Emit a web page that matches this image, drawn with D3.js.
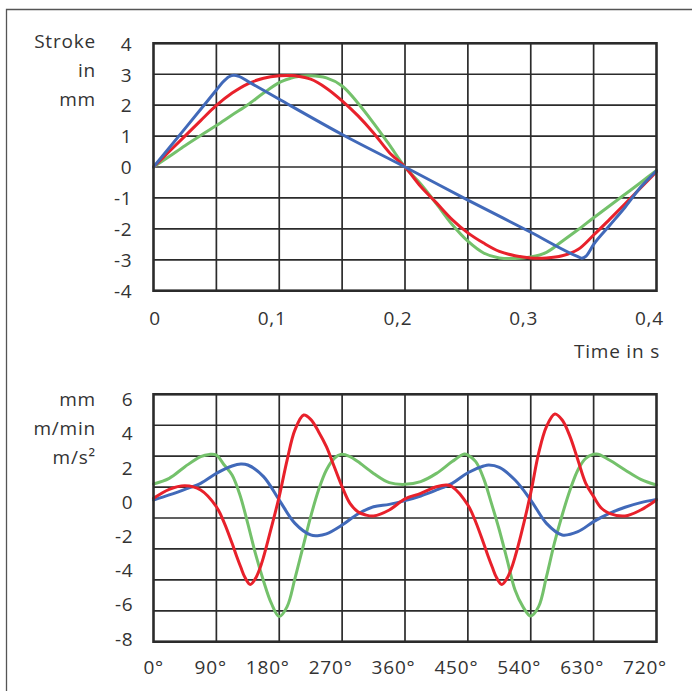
<!DOCTYPE html>
<html>
<head>
<meta charset="utf-8">
<script src="https://cdn.jsdelivr.net/npm/d3@7"></script>
<style>
  html, body { margin: 0; padding: 0; background: #fff; }
  svg { display: block; }
  text { font-family: "Open Sans", sans-serif; font-size: 19px; fill: #333; letter-spacing: 0.8px; }
</style>
</head>
<body>
<svg id="chart" width="692" height="691"></svg>
<script>
// ---------- data ----------
// Top chart: stroke in mm over time in s
const topTime   = [0, 0.0125, 0.025, 0.0375, 0.05, 0.0625, 0.075, 0.0875, 0.1, 0.11, 0.1125, 0.125, 0.1375, 0.15, 0.1625, 0.175, 0.1875, 0.2,
                   0.2125, 0.225, 0.2375, 0.25, 0.2625, 0.275, 0.2875, 0.3, 0.3125, 0.325, 0.3375, 0.35, 0.3625, 0.375, 0.3875, 0.4];
const strokeRed = [0, 0.5, 1.0, 1.5, 1.99, 2.39, 2.69, 2.87, 2.95, 2.96, 2.95, 2.84, 2.55, 2.14, 1.66, 1.1, 0.47, 0,
                   -0.63, -1.16, -1.70, -2.13, -2.46, -2.73, -2.87, -2.94, -2.94, -2.87, -2.67, -2.2, -1.7, -1.19, -0.67, -0.15];
const strokeGreen = [0, 0.34, 0.69, 1.02, 1.34, 1.68, 2.01, 2.39, 2.73, 2.88, 2.91, 2.95, 2.88, 2.62, 2.07, 1.42, 0.72, 0,
                   -0.55, -1.19, -1.86, -2.4, -2.78, -2.94, -2.96, -2.91, -2.76, -2.4, -2.03, -1.64, -1.26, -0.88, -0.5, -0.11];
const blueTime  = [0, 0.025, 0.05, 0.055, 0.06, 0.064, 0.068, 0.075, 0.1, 0.15, 0.2, 0.25, 0.3, 0.3375, 0.3405, 0.344, 0.35, 0.3625, 0.375, 0.3875, 0.4];
const strokeBlue = [0, 1.24, 2.49, 2.74, 2.92, 2.97, 2.93, 2.77, 2.19, 1.05, 0, -1.07, -2.11, -2.9, -2.95, -2.88, -2.5, -1.9, -1.3, -0.65, -0.12];

const topXTicks = [0, 0.1, 0.2, 0.3, 0.4];
const topXLabels = ["0", "0,1", "0,2", "0,3", "0,4"];
const topYTicks = [4, 3, 2, 1, 0, -1, -2, -3, -4];
const topYTitle = ["Stroke", "in", "mm"];
const topXTitle = "Time in s";

// Bottom chart: stroke, velocity, acceleration over crank angle
const angleBlue = [0, 22.5, 45, 67.5, 90, 112.5, 125, 135, 157.5, 180, 202.5, 225, 235, 247.5, 270, 292.5, 315, 337.5,
                   360, 382.5, 405, 427.5, 450, 472.5, 480, 495, 517.5, 540, 562.5, 585, 607.5, 630, 652.5, 675, 697.5, 720];
const valBlue   = [0.08, 0.38, 0.71, 1.06, 1.64, 2.07, 2.19, 2.13, 1.45, 0.08, -1.28, -1.96, -2.0, -1.90, -1.38, -0.73, -0.31, -0.17,
                   0.05, 0.32, 0.67, 1.06, 1.68, 2.07, 2.13, 1.99, 1.25, 0.08, -1.28, -1.96, -1.77, -1.18, -0.70, -0.34, -0.07, 0.12];
const angleRed  = [0, 22.5, 45, 67.5, 90, 101.25, 112.5, 119, 125, 131, 138.5, 146, 152, 157.5, 165.7, 180, 191.25, 202.5, 215, 225, 236.25, 247.5, 258.75, 270, 281.25, 292.5, 303.75, 315, 337.5,
                   360, 382.5, 405, 420, 427.5, 450, 461.25, 472.5, 479, 485, 491, 498.5, 506, 512, 517.5, 525.7, 540, 551.25, 562.5, 574.5, 585, 596.25, 607.5, 618.75, 630, 641.25, 652.5, 675, 697.5, 720];
const valRed    = [0.18, 0.71, 0.92, 0.67, -0.31, -1.25, -2.45, -3.2, -3.85, -4.45, -4.85, -4.5, -3.95, -3.25, -2.0, 0.3, 2.42, 4.18, 5.05, 4.80, 4.08, 3.20, 2.03, 0.86, -0.11, -0.60, -0.79, -0.85, -0.50,
                   0.15, 0.47, 0.86, 0.96, 0.86, -0.21, -1.2, -2.45, -3.2, -3.85, -4.45, -4.85, -4.5, -3.95, -3.25, -2.0, 0.5, 2.81, 4.37, 5.11, 4.76, 3.79, 2.42, 1.06, 0.28, -0.40, -0.70, -0.85, -0.50, 0.08];
const angleGreen = [0, 22.5, 45, 67.5, 80, 90, 101.25, 112.5, 123.75, 135, 146.25, 157.5, 168.75, 180, 191.25, 202.5, 213.75, 225, 236.25, 247.5, 258.75, 268, 281.25, 292.5, 315, 337.5,
                    360, 382.5, 405, 427.5, 445, 450, 461.25, 472.5, 483.75, 495, 506.25, 517.5, 528.75, 540, 551.25, 562.5, 573.75, 585, 596.25, 607.5, 618.75, 634, 652.5, 675, 697.5, 720];
const valGreen   = [1.02, 1.35, 2.03, 2.62, 2.75, 2.71, 2.13, 1.55, 0.38, -1.3, -3.1, -4.65, -5.96, -6.73, -6.15, -4.50, -2.70, -0.89, 0.67, 1.84, 2.52, 2.75, 2.62, 2.33, 1.64, 1.10,
                    1.0, 1.16, 1.64, 2.33, 2.77, 2.71, 2.33, 1.35, -0.11, -1.67, -3.42, -5.18, -6.15, -6.70, -6.15, -4.40, -2.45, -0.79, 0.67, 1.84, 2.52, 2.77, 2.42, 1.84, 1.29, 0.96];

const botXTicks = [0, 90, 180, 270, 360, 450, 540, 630, 720];
const botYTicks = [6, 4, 2, 0, -2, -4, -6, -8];
const botYTitle = ["mm", "m/min", "m/s\u00B2"];

const seriesColors = { blue: "#4169b9", red: "#e8212b", green: "#74c16b" };

// ---------- drawing ----------
const svg = d3.select("#chart");

// outer frame (left and top edges)
svg.append("path")
  .attr("d", "M6.5,691 V9.5 H692")
  .attr("fill", "none").attr("stroke", "#555").attr("stroke-width", 1.3);

const plotL = 153.5, plotR = 656.5;

function drawGrid(g, top, bottom, cols, rows) {
  const gx = d3.scaleLinear().domain([0, cols]).range([plotL, plotR]);
  const gy = d3.scaleLinear().domain([0, rows]).range([bottom, top]);
  g.append("g").selectAll("line.v").data(d3.range(1, cols)).join("line")
    .attr("x1", d => gx(d)).attr("x2", d => gx(d)).attr("y1", top).attr("y2", bottom)
    .attr("stroke", "#2b2b2b").attr("stroke-width", 1.7);
  g.append("g").selectAll("line.h").data(d3.range(1, rows)).join("line")
    .attr("y1", d => gy(d)).attr("y2", d => gy(d)).attr("x1", plotL).attr("x2", plotR)
    .attr("stroke", "#2b2b2b").attr("stroke-width", 1.7);
}
function drawBorder(g, top, bottom) {
  g.append("rect").attr("x", plotL).attr("y", top).attr("width", plotR - plotL).attr("height", bottom - top)
    .attr("fill", "none").attr("stroke", "#2b2b2b").attr("stroke-width", 2.6);
}
function addLine(g, xs, ys, xScale, yScale, color, curve) {
  const pts = xs.map((x, i) => [xScale(x), yScale(ys[i])]);
  g.append("path").attr("d", d3.line().curve(curve)(pts))
    .attr("fill", "none").attr("stroke", color).attr("stroke-width", 3)
    .attr("stroke-linejoin", "round").attr("stroke-linecap", "round");
}
const plainFormat = d => String(d);
const smooth = d3.curveCatmullRom.alpha(0.5);

// ----- top chart -----
const topTop = 43.3, topBot = 290.7;
const xTop = d3.scaleLinear().domain([0, 0.4]).range([plotL, plotR]);
const yTop = d3.scaleLinear().domain([-4, 4]).range([topBot, topTop]);
const gTop = svg.append("g");
drawGrid(gTop, topTop, topBot, 8, 8);
addLine(gTop, topTime, strokeGreen, xTop, yTop, seriesColors.green, smooth);
addLine(gTop, topTime, strokeRed, xTop, yTop, seriesColors.red, smooth);
addLine(gTop, blueTime, strokeBlue, xTop, yTop, seriesColors.blue, d3.curveMonotoneX);
drawBorder(gTop, topTop, topBot);

const axTopY = svg.append("g").attr("transform", `translate(${plotL},0)`)
  .call(d3.axisLeft(yTop).tickValues(topYTicks).tickSize(0).tickPadding(21).tickFormat(plainFormat));
axTopY.select(".domain").remove();
axTopY.selectAll("text").attr("dy", "0.36em").style("font-size", "19px").attr("fill", "#333");

const axTopX = svg.append("g").attr("transform", `translate(0,${topBot})`)
  .call(d3.axisBottom(xTop).tickValues(topXTicks).tickSize(0).tickPadding(0)
        .tickFormat((d, i) => topXLabels[i]));
axTopX.select(".domain").remove();
axTopX.selectAll("text").attr("text-anchor", "end").attr("dx", 7).attr("y", 34).attr("dy", 0)
  .style("font-size", "19px").attr("fill", "#333");

svg.append("text").attr("text-anchor", "end")
  .selectAll("tspan").data(topYTitle).join("tspan")
  .attr("x", 96).attr("y", (d, i) => 48 + i * 29).text(d => d);

svg.append("text").attr("x", 660).attr("y", 358).attr("text-anchor", "end").text(topXTitle);

// ----- bottom chart -----
const botTop = 394.3, botBot = 641.7;
const xBot = d3.scaleLinear().domain([0, 720]).range([plotL, plotR]);
const yBot = d3.scaleLinear().domain([-8, 6]).range([638.3, 398.8]);
const gBot = svg.append("g");
drawGrid(gBot, botTop, botBot, 8, 8);
addLine(gBot, angleGreen, valGreen, xBot, yBot, seriesColors.green, smooth);
addLine(gBot, angleBlue, valBlue, xBot, yBot, seriesColors.blue, smooth);
addLine(gBot, angleRed, valRed, xBot, yBot, seriesColors.red, smooth);
drawBorder(gBot, botTop, botBot);

const axBotY = svg.append("g").attr("transform", `translate(${plotL},0)`)
  .call(d3.axisLeft(yBot).tickValues(botYTicks).tickSize(0).tickPadding(20).tickFormat(plainFormat));
axBotY.select(".domain").remove();
axBotY.selectAll("text").attr("dy", "0.36em").style("font-size", "19px").attr("fill", "#333");

const axBotX = svg.append("g").attr("transform", `translate(0,${botBot})`)
  .call(d3.axisBottom(xBot).tickValues(botXTicks).tickSize(0).tickPadding(0).tickFormat(d => d + "\u00B0"));
axBotX.select(".domain").remove();
axBotX.selectAll("text").attr("text-anchor", "end").attr("dx", 10).attr("y", 32).attr("dy", 0)
  .style("font-size", "19px").attr("fill", "#333");

svg.append("text").attr("text-anchor", "end")
  .selectAll("tspan").data(botYTitle).join("tspan")
  .attr("x", 96).attr("y", (d, i) => 406 + i * 29).text(d => d);
</script>
</body>
</html>
